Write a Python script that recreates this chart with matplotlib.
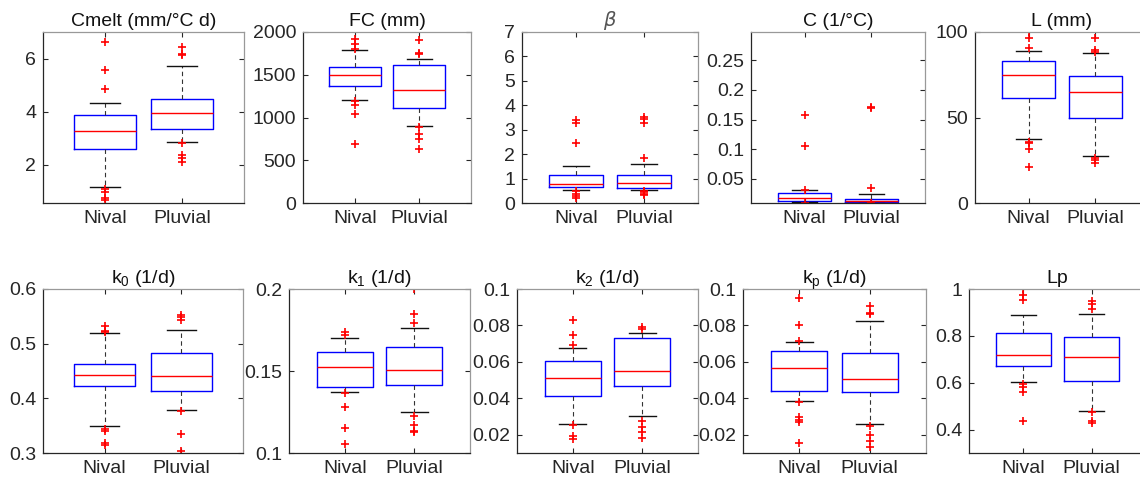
"""Boxplots of calibrated parameters, Nival vs Pluvial catchments."""

import matplotlib

matplotlib.use("Agg")
import matplotlib.pyplot as plt

# ---- data ----
titles = ["Cmelt (mm/°C d)", "FC (mm)", r"$\beta$", "C (1/°C)", "L (mm)",
          r"k$_{\mathregular{0}}$ (1/d)", r"k$_{\mathregular{1}}$ (1/d)",
          r"k$_{\mathregular{2}}$ (1/d)", r"k$_{\mathregular{p}}$ (1/d)", "Lp"]
groups = ["Nival", "Pluvial"]

nival_whislo = [1.15, 1208, 0.55, 0.0104, 37.3, 0.3488, 0.137, 0.026, 0.0385, 0.601]
nival_q1 = [2.6, 1367, 0.67, 0.0125, 61.6, 0.4232, 0.1404, 0.0415, 0.0442, 0.6716]
nival_med = [3.25, 1502, 0.79, 0.0171, 74.6, 0.442, 0.1527, 0.0509, 0.0565, 0.717]
nival_q3 = [3.87, 1595, 1.13, 0.0252, 83.3, 0.4628, 0.1616, 0.0604, 0.0658, 0.8139]
nival_whishi = [4.32, 1784, 1.53, 0.031, 89.1, 0.5195, 0.170, 0.0677, 0.0707, 0.887]
nival_fliers = [
    [6.62, 5.55, 4.85, 1.08, 0.98, 0.75, 0.67],
    [1919, 1865, 1807, 1189, 1150, 1046, 687],
    [3.40, 3.29, 2.44, 0.50, 0.37, 0.28, 0.21],
    [0.158, 0.105, 0.0318, 0.0098],
    [99.8, 96.3, 90.9, 35.9, 35.0, 31.5, 20.8],
    [0.532, 0.524, 0.521, 0.3445, 0.341, 0.318, 0.3146],
    [0.1739, 0.1722, 0.1365, 0.1278, 0.1155, 0.1053],
    [0.0828, 0.075, 0.069, 0.0253, 0.0193, 0.0176],
    [0.0949, 0.080, 0.0716, 0.0382, 0.030, 0.0283, 0.027, 0.0157],
    [1.0, 0.975, 0.954, 0.594, 0.582, 0.560, 0.436],
]

pluvial_whislo = [2.85, 900, 0.55, 0.0097, 27.6, 0.379, 0.1249, 0.0305, 0.026, 0.481]
pluvial_q1 = [3.36, 1112, 0.63, 0.0102, 49.8, 0.4134, 0.1414, 0.047, 0.0437, 0.607]
pluvial_med = [3.96, 1324, 0.81, 0.012, 64.8, 0.440, 0.1508, 0.055, 0.0508, 0.708]
pluvial_q3 = [4.49, 1614, 1.16, 0.016, 74.0, 0.4835, 0.1647, 0.0733, 0.0651, 0.797]
pluvial_whishi = [5.72, 1687, 1.61, 0.0235, 87.6, 0.5256, 0.1765, 0.076, 0.0822, 0.892]
pluvial_fliers = [
    [6.42, 6.17, 6.12, 2.82, 2.35, 2.24, 2.10],
    [1907, 1749, 1737, 892, 803, 753, 637],
    [3.53, 3.44, 3.29, 1.85, 0.51, 0.44, 0.37, 0.34],
    [0.172, 0.170, 0.0344, 0.0095],
    [96.7, 89.3, 88.3, 26.2, 24.9, 23.3],
    [0.553, 0.548, 0.544, 0.377, 0.335, 0.303],
    [0.1998, 0.1849, 0.179, 0.1227, 0.1173, 0.1133, 0.1127],
    [0.0791, 0.0779, 0.0276, 0.0242, 0.0214, 0.0185],
    [0.0908, 0.087, 0.0863, 0.0247, 0.0198, 0.0167, 0.0133],
    [0.949, 0.937, 0.915, 0.474, 0.437, 0.426],
]

ylims = [(0.55, 7), (0, 2000), (0, 7), (0.009, 0.298), (0, 100),
         (0.3, 0.6), (0.1, 0.2), (0.01, 0.1), (0.01, 0.1), (0.3, 1)]
yticks = [[2, 4, 6], [0, 500, 1000, 1500, 2000], [0, 1, 2, 3, 4, 5, 6, 7],
          [0.05, 0.1, 0.15, 0.2, 0.25], [0, 50, 100],
          [0.3, 0.4, 0.5, 0.6], [0.1, 0.15, 0.2],
          [0.02, 0.04, 0.06, 0.08, 0.1], [0.02, 0.04, 0.06, 0.08, 0.1],
          [0.4, 0.6, 0.8, 1]]

# ---- layout: axes boxes in pixels (left, right, top, bottom) ----
W, H = 1140, 482
axes_px = [(43, 244, 32, 203), (303, 471, 32, 203), (522, 698, 32, 203),
           (751, 925, 32, 203), (975, 1149, 32, 203),
           (43, 243, 289, 453), (289, 470, 289, 453), (517, 698, 289, 453),
           (743, 926, 289, 453), (969, 1146, 289, 453)]

plt.rcParams["font.family"] = ["Liberation Sans", "DejaVu Sans"]
plt.rcParams["mathtext.fontset"] = "dejavusans"
plt.rcParams["font.size"] = 14

dark = "#262626"
fs = 14
fig = plt.figure(figsize=(W / 100, H / 100), dpi=100)

for i in range(10):
    l, r, t, b = axes_px[i]
    ax = fig.add_axes([l / W, 1 - b / H, (r - l) / W, (b - t) / H])
    stats = [
        dict(whislo=nival_whislo[i], q1=nival_q1[i], med=nival_med[i],
             q3=nival_q3[i], whishi=nival_whishi[i], fliers=nival_fliers[i]),
        dict(whislo=pluvial_whislo[i], q1=pluvial_q1[i], med=pluvial_med[i],
             q3=pluvial_q3[i], whishi=pluvial_whishi[i], fliers=pluvial_fliers[i]),
    ]
    ax.bxp(stats, positions=[1, 2], widths=0.8, capwidths=0.38,
           boxprops=dict(color="#0000ff", linewidth=1.0),
           medianprops=dict(color="#ff0000", linewidth=1.0),
           whiskerprops=dict(color="#333333", linewidth=0.8, linestyle=(0, (4, 3))),
           capprops=dict(color="#111111", linewidth=1.0),
           flierprops=dict(marker="+", markeredgecolor="#ff0000",
                           markersize=5.5, markeredgewidth=1.2),
           showfliers=True)
    ax.set_xlim(0.2, 2.8)
    ax.set_ylim(*ylims[i])
    ax.set_xticks([1, 2])
    ax.set_xticklabels(groups)
    ax.set_yticks(yticks[i])
    ax.set_yticklabels([f"{v:g}" for v in yticks[i]])
    ax.tick_params(direction="in", length=3.5, width=0.8, colors=dark,
                   top=True, right=True, pad=5, labelsize=fs)
    for side in ["left", "bottom"]:
        ax.spines[side].set_color(dark)
        ax.spines[side].set_linewidth(0.9)
    for side in ["top", "right"]:
        ax.spines[side].set_color("#999999")
        ax.spines[side].set_linewidth(0.9)
    if i == 2:
        ax.set_title(titles[i], fontsize=fs, color="#555555", pad=4)
    else:
        ax.set_title(titles[i], fontsize=fs, color="#111111", pad=4)

fig.savefig("out.png", dpi=100)
plt.close(fig)
